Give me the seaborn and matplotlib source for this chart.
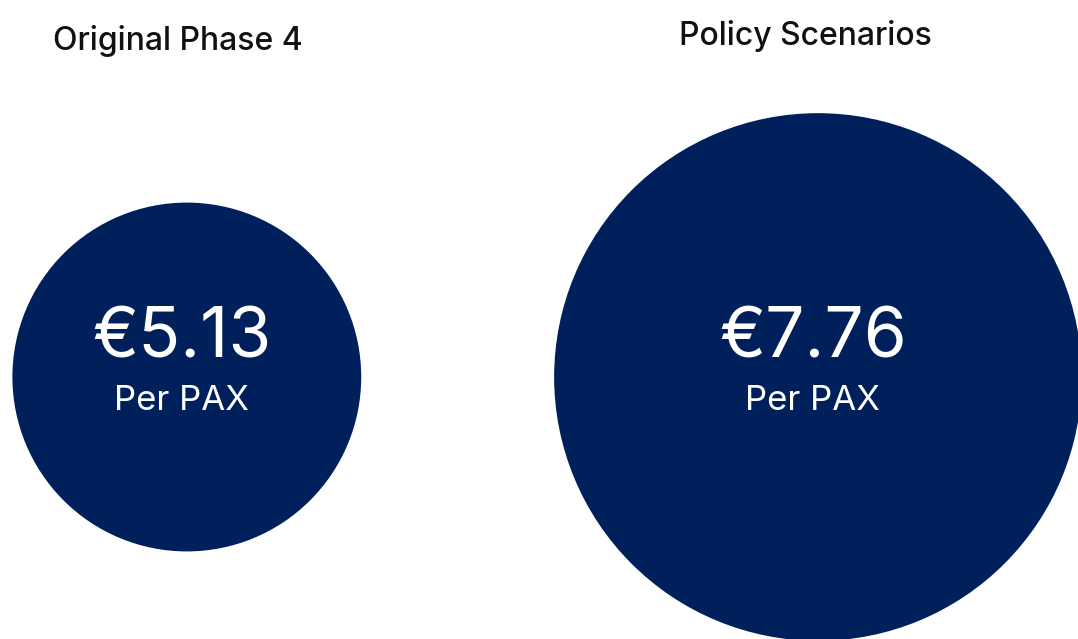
import matplotlib
matplotlib.use("Agg")
import matplotlib.pyplot as plt
import seaborn as sns
import pandas as pd

# data
scenarios = ["Original Phase 4", "Policy Scenarios"]
cost_per_pax = [5.13, 7.76]
value_labels = ["€5.13", "€7.76"]
unit_label = "Per PAX"

navy = "#00205c"
px_per_euro = 34  # circle radius in pixels per euro
dpi = 100

sns.set_theme(style="white")
plt.rcParams["font.family"] = ["Inter", "DejaVu Sans"]

df = pd.DataFrame({
    "scenario": scenarios,
    "pos": range(len(scenarios)),
    "y": [0, 0],
    "cost": cost_per_pax,
})

# marker area in points^2 so the radius is proportional to the value
df["s"] = [(2 * px_per_euro * v * 72 / dpi) ** 2 for v in df["cost"]]

fig = plt.figure(figsize=(10.78, 6.39), dpi=dpi)
ax = fig.add_axes([0, 0, 1, 1])

sns.scatterplot(
    data=df,
    x="pos",
    y="y",
    s=df["s"],
    color=navy,
    linewidth=0,
    legend=False,
    ax=ax
)

ax.set_xlim(-0.296, 1.412)
ax.set_ylim(-0.41, 0.59)
ax.axis("off")

for i, row in df.iterrows():
    ax.text(
        row["pos"] - 0.008, 0.031,
        value_labels[i],
        color="white", fontsize=50,
        ha="center", va="baseline"
    )
    ax.text(
        row["pos"] - 0.008, -0.052,
        unit_label,
        color="white", fontsize=25,
        ha="center", va="baseline"
    )

fig.text(178 / 1078, 1 - 50 / 639, scenarios[0], fontsize=23,
         fontweight="medium", color="#111111", ha="center", va="baseline")
fig.text(805 / 1078, 1 - 45 / 639, scenarios[1], fontsize=23,
         fontweight="medium", color="#111111", ha="center", va="baseline")

fig.savefig("out.png", dpi=dpi, facecolor="white")
plt.close()
